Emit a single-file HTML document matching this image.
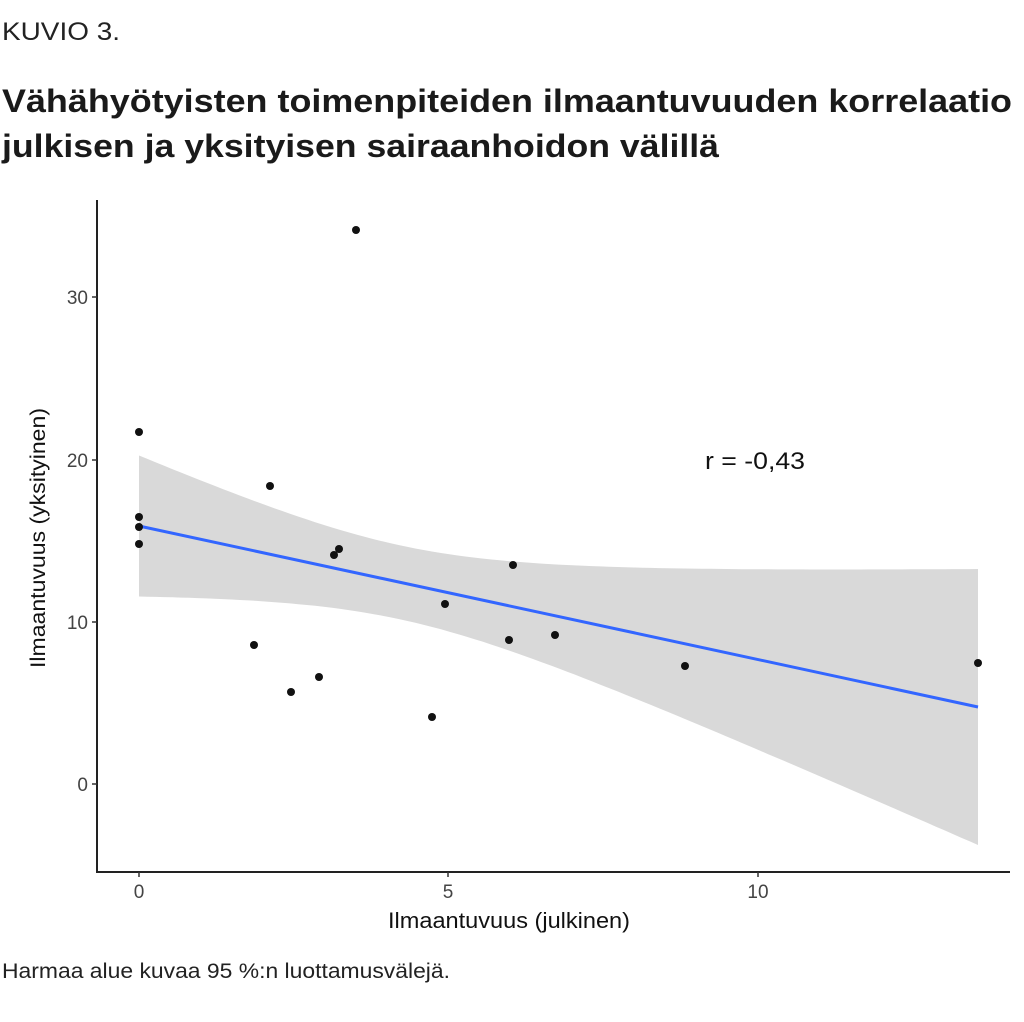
<!DOCTYPE html>
<html><head><meta charset="utf-8"><style>
html,body{margin:0;padding:0;background:#fff;}
svg{display:block;}
</style></head><body>
<svg width="1024" height="1022" viewBox="0 0 1024 1022" xmlns="http://www.w3.org/2000/svg" font-family="Liberation Sans, DejaVu Sans, sans-serif">
<text x="2" y="40" font-size="25" fill="#222" textLength="118" lengthAdjust="spacingAndGlyphs">KUVIO 3.</text>
<text x="2" y="112" font-size="32" font-weight="bold" fill="#1a1a1a" textLength="1010" lengthAdjust="spacingAndGlyphs">Vähähyötyisten toimenpiteiden ilmaantuvuuden korrelaatio</text>
<text x="2" y="157" font-size="32" font-weight="bold" fill="#1a1a1a" textLength="717" lengthAdjust="spacingAndGlyphs">julkisen ja yksityisen sairaanhoidon välillä</text>

<path id="band" fill="#d9d9d9" d=""/>
<line x1="139" y1="526" x2="978" y2="707" stroke="#3366ff" stroke-width="3"/>

<line x1="97" y1="200" x2="97" y2="873" stroke="#222" stroke-width="2"/>
<line x1="96" y1="872" x2="1010" y2="872" stroke="#222" stroke-width="2"/>
<g stroke="#333" stroke-width="1.5">
<line x1="92" y1="297" x2="97" y2="297"/><line x1="92" y1="460" x2="97" y2="460"/>
<line x1="92" y1="622" x2="97" y2="622"/><line x1="92" y1="784" x2="97" y2="784"/>
<line x1="139" y1="872" x2="139" y2="877"/><line x1="448" y1="872" x2="448" y2="877"/>
<line x1="758" y1="872" x2="758" y2="877"/>
</g>
<g font-size="19" fill="#444" text-anchor="end">
<text x="88" y="304">30</text><text x="88" y="467">20</text>
<text x="88" y="629">10</text><text x="88" y="791">0</text>
</g>
<g font-size="19" fill="#444" text-anchor="middle">
<text x="139" y="898">0</text><text x="448" y="898">5</text><text x="758" y="898">10</text>
</g>
<text x="388" y="928" font-size="22" fill="#111" textLength="242" lengthAdjust="spacingAndGlyphs">Ilmaantuvuus (julkinen)</text>
<text transform="translate(45,538) rotate(-90)" font-size="21" fill="#111" text-anchor="middle" textLength="260" lengthAdjust="spacingAndGlyphs">Ilmaantuvuus (yksityinen)</text>
<text x="705" y="469" font-size="24" fill="#111" textLength="100" lengthAdjust="spacingAndGlyphs">r = -0,43</text>

<g fill="#111">
<circle cx="139" cy="432" r="4"/><circle cx="139" cy="517" r="4"/><circle cx="139" cy="527" r="4"/>
<circle cx="139" cy="544" r="4"/><circle cx="254" cy="645" r="4"/><circle cx="270" cy="486" r="4"/>
<circle cx="291" cy="692" r="4"/><circle cx="319" cy="677" r="4"/><circle cx="334" cy="555" r="4"/>
<circle cx="339" cy="549" r="4"/><circle cx="356" cy="230" r="4"/><circle cx="432" cy="717" r="4"/>
<circle cx="445" cy="604" r="4"/><circle cx="509" cy="640" r="4"/><circle cx="513" cy="565" r="4"/>
<circle cx="555" cy="635" r="4"/><circle cx="685" cy="666" r="4"/><circle cx="978" cy="663" r="4"/>
</g>
<text x="2" y="978" font-size="21" fill="#222" textLength="448" lengthAdjust="spacingAndGlyphs">Harmaa alue kuvaa 95 %:n luottamusvälejä.</text>
</svg>
<script>
(function(){
var up=[],lo=[];
for(var x=139;x<=978.5;x+=8.39){
 var c=526+(x-139)*181/839;
 var w=Math.sqrt(1369+0.0529*(x-400)*(x-400));
 up.push(x.toFixed(1)+","+(c-w).toFixed(1));
 lo.unshift(x.toFixed(1)+","+(c+w).toFixed(1));
}
document.getElementById("band").setAttribute("d","M"+up.join(" L")+" L"+lo.join(" L")+" Z");
})();
</script>
</body></html>
